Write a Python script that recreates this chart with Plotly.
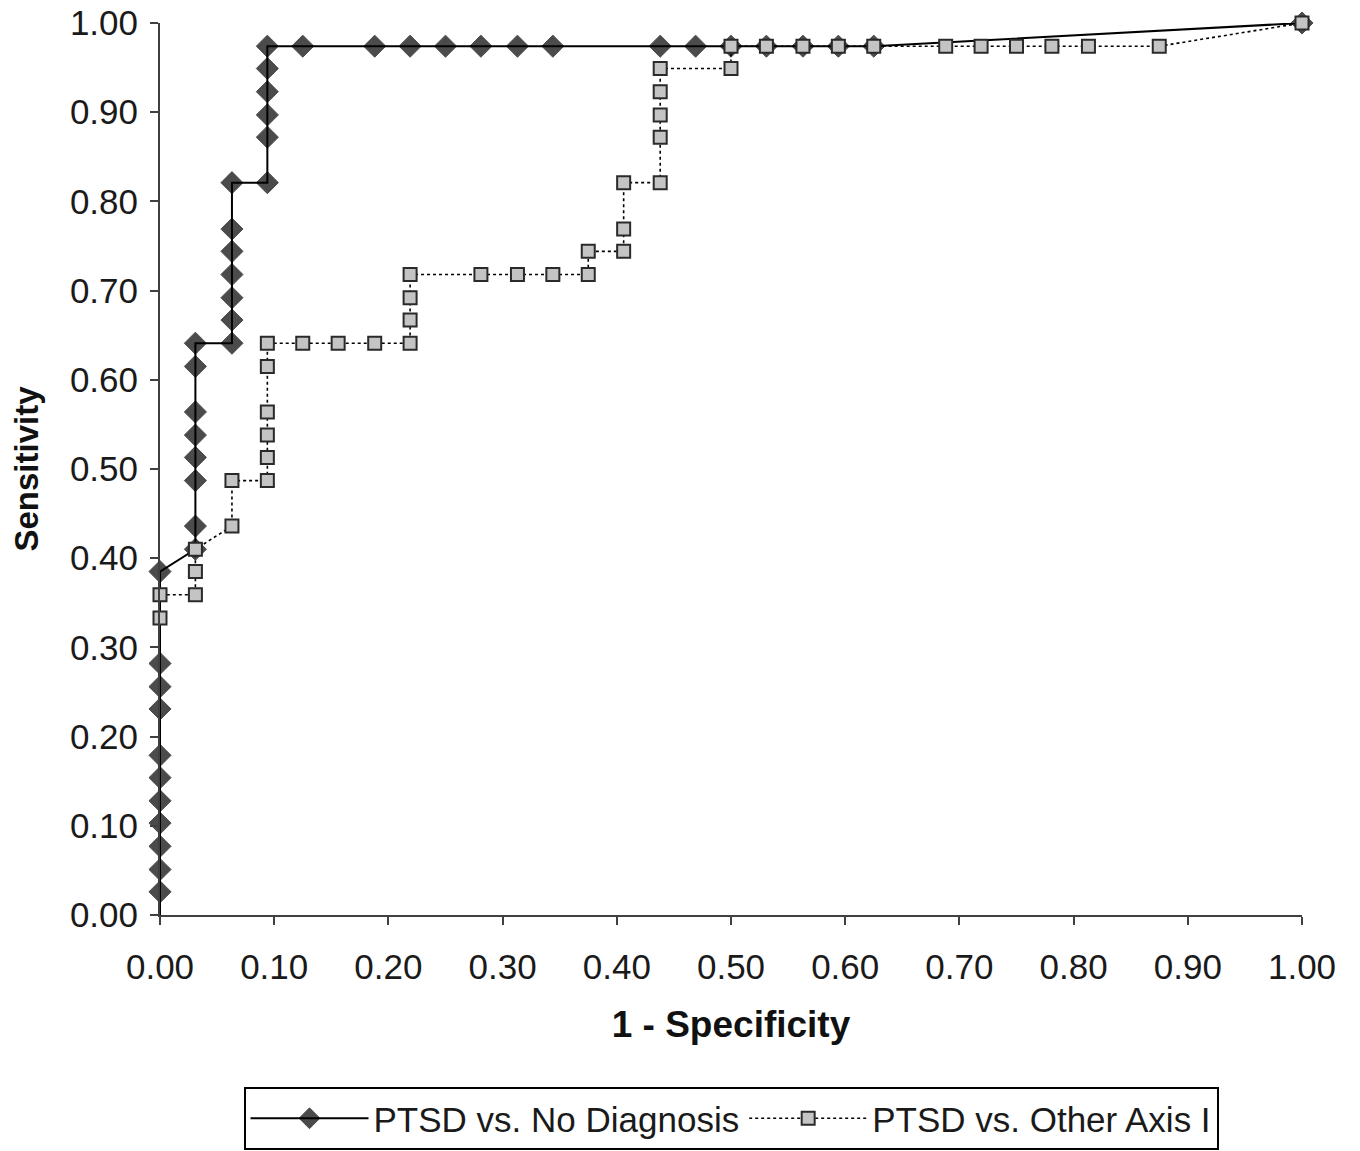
import plotly.graph_objects as go

# PTSD vs. No Diagnosis (1 - specificity, sensitivity)
nodiag_fpr = [0.000, 0.000, 0.000, 0.000, 0.000, 0.000, 0.000, 0.000, 0.000, 0.000, 0.000, 0.000,
              0.031, 0.031, 0.031, 0.031, 0.031, 0.031, 0.031, 0.031,
              0.063, 0.063, 0.063, 0.063, 0.063, 0.063, 0.063,
              0.094, 0.094, 0.094, 0.094, 0.094, 0.094,
              0.125, 0.188, 0.219, 0.250, 0.281, 0.313, 0.344, 0.438, 0.469,
              0.500, 0.531, 0.563, 0.594, 0.625, 1.000]
nodiag_sens = [0.000, 0.026, 0.051, 0.077, 0.103, 0.128, 0.154, 0.179, 0.231, 0.256, 0.282, 0.385,
               0.410, 0.436, 0.487, 0.513, 0.538, 0.564, 0.615, 0.641,
               0.641, 0.667, 0.692, 0.718, 0.744, 0.769, 0.821,
               0.821, 0.872, 0.897, 0.923, 0.949, 0.974,
               0.974, 0.974, 0.974, 0.974, 0.974, 0.974, 0.974, 0.974, 0.974,
               0.974, 0.974, 0.974, 0.974, 0.974, 1.000]

# PTSD vs. Other Axis I
other_fpr = [0.000, 0.000, 0.031, 0.031, 0.031, 0.063, 0.063,
             0.094, 0.094, 0.094, 0.094, 0.094, 0.094,
             0.125, 0.156, 0.188, 0.219, 0.219, 0.219, 0.219,
             0.281, 0.313, 0.344, 0.375, 0.375, 0.406, 0.406, 0.406,
             0.438, 0.438, 0.438, 0.438, 0.438,
             0.500, 0.500, 0.531, 0.563, 0.594, 0.625, 0.688, 0.719, 0.750,
             0.781, 0.813, 0.875, 1.000]
other_sens = [0.333, 0.359, 0.359, 0.385, 0.410, 0.436, 0.487,
              0.487, 0.513, 0.538, 0.564, 0.615, 0.641,
              0.641, 0.641, 0.641, 0.641, 0.667, 0.692, 0.718,
              0.718, 0.718, 0.718, 0.718, 0.744, 0.744, 0.769, 0.821,
              0.821, 0.872, 0.897, 0.923, 0.949,
              0.949, 0.974, 0.974, 0.974, 0.974, 0.974, 0.974, 0.974, 0.974,
              0.974, 0.974, 0.974, 1.000]

tick_vals = [i / 10 for i in range(11)]

FONT = "Liberation Sans, Arial, sans-serif"

fig = go.Figure()

nodiag_sizes = [0 if (x == 0 and y == 0) else 17 for x, y in zip(nodiag_fpr, nodiag_sens)]

fig.add_trace(go.Scatter(
    x=nodiag_fpr, y=nodiag_sens, mode="lines+markers",
    name="PTSD vs. No Diagnosis",
    line=dict(color="#000000", width=2),
    marker=dict(symbol="diamond", size=nodiag_sizes, color="#000000",
                line=dict(width=1, color="#000000")),
    cliponaxis=False,
))

fig.add_trace(go.Scatter(
    x=other_fpr, y=other_sens, mode="lines+markers",
    name="PTSD vs. Other Axis I",
    line=dict(color="#000000", width=1.6, dash="dot"),
    marker=dict(symbol="square", size=13, color="#c4c4c4",
                line=dict(color="#2a2a2a", width=2)),
    cliponaxis=False,
))

axis_common = dict(
    range=[0, 1], tickvals=tick_vals, tickformat=".2f",
    showgrid=False, zeroline=False, showline=True, automargin=False,
    linecolor="#404040", linewidth=2,
    ticks="outside", ticklen=8, tickwidth=2, tickcolor="#404040",
    tickfont=dict(family=FONT, size=35, color="#1a1a1a"),
    ticklabeloverflow="allow",
)

fig.update_xaxes(
    **axis_common,
    ticklabelstandoff=12,
    title=dict(text="<b>1 - Specificity</b>", font=dict(family=FONT, size=37, color="#111111"),
               standoff=26),
)
fig.update_yaxes(
    **axis_common,
    ticklabelstandoff=5,
    title=dict(text="<b>Sensitivity</b>", font=dict(family=FONT, size=33, color="#111111"),
               standoff=23),
)

fig.update_layout(
    width=1360, height=1151,
    margin=dict(l=152, r=66, t=15, b=244, autoexpand=False),
    plot_bgcolor="white", paper_bgcolor="white",
    showlegend=True,
    legend=dict(
        orientation="h", x=0.5, xanchor="center",
        yref="container", y=1 - 1079 / 1151, yanchor="top",
        font=dict(family=FONT, size=35, color="#1a1a1a"),
        bordercolor="#000000", borderwidth=2, bgcolor="white",
        itemwidth=118,
    ),
)

fig.write_html("out.html")
